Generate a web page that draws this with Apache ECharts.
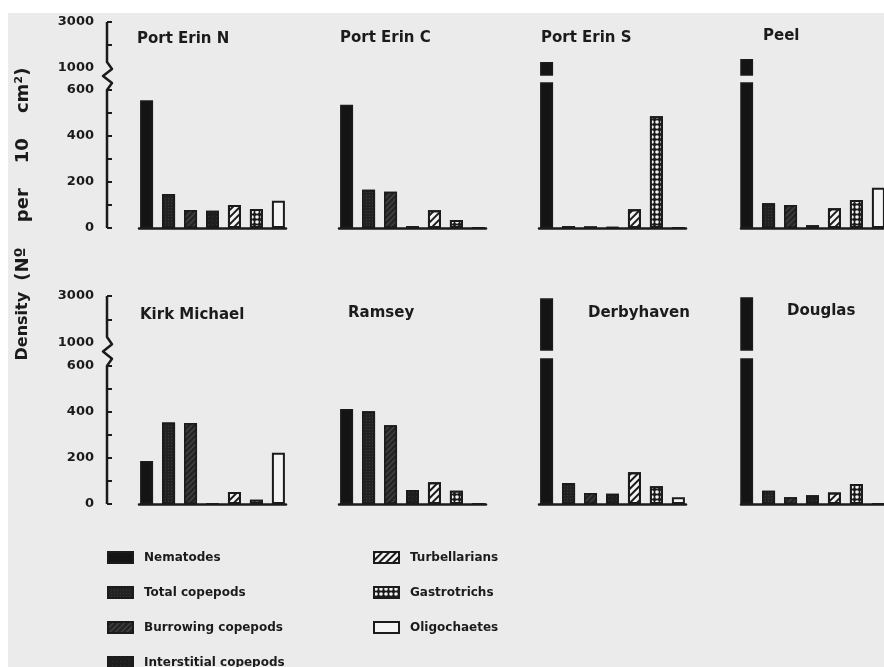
<!DOCTYPE html>
<html>
<head>
<meta charset="utf-8">
<script src="https://cdn.jsdelivr.net/npm/echarts@6/dist/echarts.min.js"></script>
<style>
  html, body { margin: 0; padding: 0; background: #fff; }
  #chart { width: 884px; height: 667px; }
</style>
</head>
<body>
<div id="chart"></div>
<script>
// Sampling sites, one panel each (top row, then bottom row)
const sites = ['Port Erin N', 'Port Erin C', 'Port Erin S', 'Peel',
               'Kirk Michael', 'Ramsey', 'Derbyhaven', 'Douglas'];
// Faunal groups, one bar each per panel
const groups = ['Nematodes', 'Total copepods', 'Burrowing copepods', 'Interstitial copepods',
                'Turbellarians', 'Gastrotrichs', 'Oligochaetes'];

// Density (No. per 10 cm2) at each site, in the order of `sites`
const nematodes            = [555, 535, 1265, 1390, 187, 413, 2900, 2950];
const totalCopepods        = [148, 166,    8,  108, 354, 403,   91,   58];
const burrowingCopepods    = [ 78, 158,    7,  100, 352, 342,   48,   29];
const interstitialCopepods = [ 75,   8,    4,   12,   0,  61,   45,   38];
const turbellarians        = [100,  77,   81,   86,  52,  94,  138,   50];
const gastrotrichs         = [ 83,  35,  485,  122,  18,  58,   77,   87];
const oligochaetes         = [118,   0,    0,  175, 223,   0,   29,    0];

// Broken value axis: ticks and labels of the lower and upper parts
const lowerTicks  = [0, 100, 200, 300, 400, 500, 600];
const lowerLabels = [0, 200, 400, 600];
const upperTicks  = [2000, 3000];
const upperLabels = [1000, 3000];

const values = [nematodes, totalCopepods, burrowingCopepods, interstitialCopepods,
                turbellarians, gastrotrichs, oligochaetes];

// ---- layout and style ----
const FONT = 'DejaVu Sans';
const INK = '#1b1b1b';
const PAPER = '#ebebeb';
const LOWER_MAX = 630, UPPER_MIN = 700, UPPER_MAX = 3000;
const colLeft = [139, 339, 539, 741];
const panelW = 147;
const rowBox = [
  { upperTop: 22,  upperH: 53, lowerTop: 83,  lowerH: 145 },
  { upperTop: 296, upperH: 54, lowerTop: 359, lowerH: 145 }
];
const AXIS_X = 107;
const titlePos = [[137, 32], [340, 31], [541, 31], [763, 29],
                  [140, 308], [348, 306], [588, 306], [787, 304]];

const barStyles = [
  { color: '#141414', borderColor: INK, borderWidth: 1.5 },
  { color: '#222', borderColor: INK, borderWidth: 1.5,
    decal: { symbol: 'rect', symbolSize: 1, color: '#3a3a3a', dashArrayX: [1, 2], dashArrayY: [1, 2] } },
  { color: '#252525', borderColor: INK, borderWidth: 1.5,
    decal: { symbol: 'rect', color: '#4a4a4a', dashArrayX: [1, 0], dashArrayY: [1, 3], rotation: -Math.PI / 4 } },
  { color: '#1e1e1e', borderColor: INK, borderWidth: 1.5,
    decal: { symbol: 'rect', symbolSize: 1, color: '#333', dashArrayX: [1, 3], dashArrayY: [1, 3] } },
  { color: '#f4f4f4', borderColor: INK, borderWidth: 2,
    decal: { symbol: 'rect', color: INK, dashArrayX: [1, 0], dashArrayY: [2, 3], rotation: -Math.PI / 4 } },
  { color: INK, borderColor: INK, borderWidth: 2,
    decal: { symbol: 'circle', symbolSize: 0.9, color: '#f2f2f2', dashArrayX: [4, 1], dashArrayY: [4, 1] } },
  { color: '#f4f4f4', borderColor: INK, borderWidth: 2 }
];

const labelStyle = { color: INK, fontFamily: FONT, fontWeight: 'bold', fontSize: 13, margin: 13,
                     formatter: v => String(v) };
const tickStyle = { show: true, inside: true, length: 5, lineStyle: { color: INK, width: 2 } };

const grid = [], xAxis = [], yAxis = [], series = [], title = [];

sites.forEach((site, i) => {
  const r = rowBox[Math.floor(i / 4)];
  const c = i % 4;
  const showAxis = c === 0;
  const lo = 2 * i, up = 2 * i + 1;

  // lower part of the broken axis (0 .. 600)
  grid.push({ left: colLeft[c], top: r.lowerTop, width: panelW, height: r.lowerH });
  xAxis.push({
    gridIndex: lo, type: 'category', data: [site],
    axisLine: { lineStyle: { color: INK, width: 2.5 } },
    axisTick: { show: false }, axisLabel: { show: false }
  });
  yAxis.push({
    gridIndex: lo, type: 'value', min: 0, max: LOWER_MAX, show: showAxis,
    offset: colLeft[0] - AXIS_X,
    axisLine: { show: false }, splitLine: { show: false },
    axisTick: Object.assign({ customValues: lowerTicks }, tickStyle),
    axisLabel: Object.assign({ customValues: lowerLabels }, labelStyle)
  });

  // upper part of the broken axis (1000 .. 3000)
  grid.push({ left: colLeft[c], top: r.upperTop, width: panelW, height: r.upperH });
  xAxis.push({ gridIndex: up, type: 'category', data: [site], show: false });
  yAxis.push({
    gridIndex: up, type: 'value', min: UPPER_MIN, max: UPPER_MAX, show: showAxis,
    offset: colLeft[0] - AXIS_X,
    axisLine: { show: false }, splitLine: { show: false },
    axisTick: Object.assign({ customValues: upperTicks }, tickStyle),
    axisLabel: Object.assign({ customValues: upperLabels }, labelStyle)
  });

  groups.forEach((g, k) => {
    const v = values[k][i];
    const common = { type: 'bar', name: g, barWidth: 13, barGap: '69%', clip: true,
                     silent: true, itemStyle: barStyles[k] };
    series.push(Object.assign({ xAxisIndex: lo, yAxisIndex: lo, data: [v] }, common));
    series.push(Object.assign({ xAxisIndex: up, yAxisIndex: up,
                                data: [v > LOWER_MAX ? v : '-'] }, common));
  });

  title.push({
    text: site, left: titlePos[i][0], top: titlePos[i][1], padding: 0,
    textStyle: { fontFamily: FONT, fontWeight: 'bold', fontSize: 15, color: INK }
  });
});

const legendText = { fontFamily: FONT, fontWeight: 'bold', fontSize: 12, color: INK, padding: [0, 0, 0, 6] };
const legendCommon = { orient: 'vertical', icon: 'rect', itemWidth: 25, itemHeight: 11,
                       itemGap: 22, height: 160, selectedMode: false, textStyle: legendText, padding: 0 };

const chart = echarts.init(document.getElementById('chart'), null, { renderer: 'canvas' });
chart.setOption({
  animation: false,
  backgroundColor: '#fff',
  title, grid, xAxis, yAxis, series,
  legend: [
    Object.assign({ left: 107, top: 551, data: groups.slice(0, 4) }, legendCommon),
    Object.assign({ left: 373, top: 551, data: groups.slice(4) }, legendCommon)
  ]
});

// Axis line with the break squiggle, drawn between the two scale parts of each row
function axisLine(upIdx, loIdx) {
  const yTop = chart.convertToPixel({ yAxisIndex: upIdx }, UPPER_MAX);
  const y1000 = chart.convertToPixel({ yAxisIndex: upIdx }, 1000);
  const y600 = chart.convertToPixel({ yAxisIndex: loIdx }, 600);
  const y0 = chart.convertToPixel({ yAxisIndex: loIdx }, 0);
  const a = y1000 - 6, b = y600;
  return {
    type: 'polyline', silent: true, z: 10,
    shape: { points: [
      [AXIS_X, yTop], [AXIS_X, a],
      [AXIS_X + 5, a + (b - a) * 0.25], [AXIS_X - 4, a + (b - a) * 0.5],
      [AXIS_X + 5, a + (b - a) * 0.75], [AXIS_X, b], [AXIS_X, y0]
    ] },
    style: { stroke: INK, lineWidth: 2.5, fill: null, lineJoin: 'round' }
  };
}

chart.setOption({
  graphic: [
    { type: 'rect', z: -10, silent: true, shape: { x: 8, y: 13, width: 900, height: 700 },
      style: { fill: PAPER } },
    { type: 'text', x: 23, y: 214, rotation: Math.PI / 2, silent: true, z: 10,
      style: {
        text: '{a|Density}  {b|(Nº    per    10    cm²)}',
        fontFamily: FONT, fontWeight: 'bold', fontSize: 16, fill: INK,
        align: 'center', verticalAlign: 'middle',
        rich: {
          a: { fontFamily: FONT, fontWeight: 'bold', fontSize: 16, fill: INK },
          b: { fontFamily: FONT, fontWeight: 'bold', fontSize: 18, fill: INK }
        }
      } },
    axisLine(1, 0),
    axisLine(9, 8)
  ]
});
</script>
</body>
</html>
